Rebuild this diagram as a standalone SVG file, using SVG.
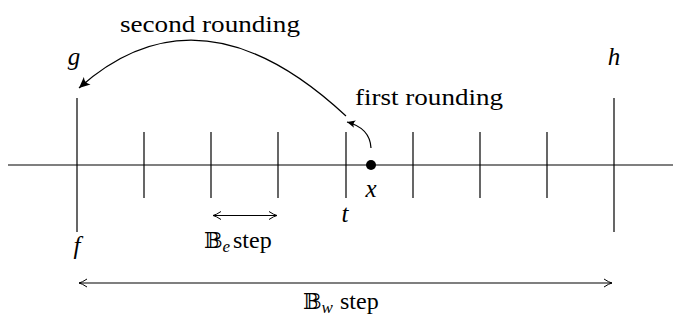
<svg xmlns="http://www.w3.org/2000/svg" width="673" height="321" viewBox="0 0 673 321">
<style>
.ln{stroke:#000;stroke-width:1.2;fill:none}
</style>
<defs>
<marker id="stealth" viewBox="-11 -6 12 12" markerWidth="12" markerHeight="12" refX="0" refY="0" orient="auto" markerUnits="userSpaceOnUse">
<path d="M0,0 L-11,-5 Q-7,0 -11,5 Z" fill="#000"/>
</marker>
<marker id="stealthS" viewBox="-11 -6 12 12" markerWidth="9" markerHeight="9" refX="0" refY="0" orient="auto" markerUnits="userSpaceOnUse">
<path d="M0,0 L-11,-5 Q-7,0 -11,5 Z" fill="#000"/>
</marker>
<marker id="to" viewBox="-9 -5 10 10" markerWidth="10" markerHeight="10" refX="0" refY="0" orient="auto-start-reverse" markerUnits="userSpaceOnUse">
<path d="M-8,-4 Q-3,-0.6 0,0 Q-3,0.6 -8,4" fill="none" stroke="#000" stroke-width="1"/>
</marker>
</defs>
<g id="axis">
<line class="ln" x1="8" y1="165" x2="673" y2="165"/>
</g>
<g id="ticks">
<line class="ln" x1="77" y1="98" x2="77" y2="232"/>
<line class="ln" x1="614" y1="98" x2="614" y2="232"/>
<line class="ln" x1="144" y1="132" x2="144" y2="198"/>
<line class="ln" x1="211" y1="132" x2="211" y2="198"/>
<line class="ln" x1="278" y1="132" x2="278" y2="198"/>
<line class="ln" x1="346" y1="132" x2="346" y2="198"/>
<line class="ln" x1="413" y1="132" x2="413" y2="198"/>
<line class="ln" x1="480" y1="132" x2="480" y2="198"/>
<line class="ln" x1="547" y1="132" x2="547" y2="198"/>
</g>
<g id="point-x" font-family="Liberation Serif, DejaVu Serif, serif" font-style="italic" font-size="25">
<circle cx="371" cy="165" r="5" fill="#000"/>
<text x="371" y="197" text-anchor="middle">x</text>
</g>
<g id="labels" font-family="Liberation Serif, DejaVu Serif, serif" font-size="24" fill="#000">
<text x="74" y="65" text-anchor="middle" font-style="italic" font-size="25">g</text>
<text x="614" y="65" text-anchor="middle" font-style="italic" font-size="25">h</text>
<text x="77" y="254" text-anchor="middle" font-style="italic" font-size="25">f</text>
<text x="345" y="222" text-anchor="middle" font-style="italic" font-size="25">t</text>
<text x="210" y="32" text-anchor="middle" textLength="180" lengthAdjust="spacingAndGlyphs">second rounding</text>
<text x="429" y="105" text-anchor="middle" textLength="148" lengthAdjust="spacingAndGlyphs">first rounding</text>
<text y="248"><tspan x="204" font-family="DejaVu Serif, DejaVu Sans, serif" font-size="22">𝔹</tspan><tspan font-style="italic" font-size="17" dy="4">e</tspan><tspan x="233" dy="-4">step</tspan></text>
<text y="309"><tspan x="303" font-family="DejaVu Serif, DejaVu Sans, serif" font-size="22">𝔹</tspan><tspan font-style="italic" font-size="17" dy="4">w</tspan><tspan x="340" dy="-4">step</tspan></text>
</g>
<g id="connectors">
<path class="ln" d="M346,116 Q200,-20 79,88" marker-end="url(#stealth)"/>
<path class="ln" d="M371,148 Q370,128 347,122" marker-end="url(#stealthS)"/>
<line class="ln" x1="213" y1="215.5" x2="277" y2="215.5" stroke-width="1" marker-start="url(#to)" marker-end="url(#to)"/>
<line class="ln" x1="79" y1="283" x2="612" y2="283" stroke-width="1" marker-start="url(#to)" marker-end="url(#to)"/>
</g>
</svg>
